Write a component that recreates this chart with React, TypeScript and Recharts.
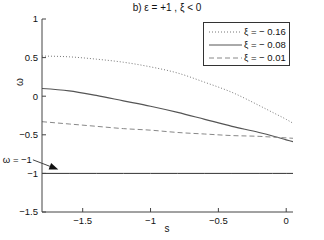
import { LineChart, Line, XAxis, YAxis, ReferenceLine } from 'recharts'

// s axis samples and the three ω(s) curves
const sVals = [-1.8, -1.6, -1.4, -1.2, -1.0, -0.8, -0.6, -0.4, -0.2, -0.1, 0, 0.05]
const xiA = [0.52, 0.51, 0.48, 0.44, 0.38, 0.3, 0.18, 0.05, -0.12, -0.21, -0.3, -0.35] // ξ = -0.16
const xiB = [0.1, 0.07, 0.01, -0.06, -0.13, -0.21, -0.3, -0.39, -0.47, -0.515, -0.565, -0.59] // ξ = -0.08
const xiC = [-0.33, -0.36, -0.39, -0.42, -0.44, -0.47, -0.49, -0.51, -0.52, -0.53, -0.54, -0.545] // ξ = -0.01
const omegaFloor = -1

const xTicks = [-1.5, -1, -0.5, 0]
const yTicks = [-1.5, -1, -0.5, 0, 0.5, 1]

const series = [
  { key: 'a', label: 'ξ = − 0.16', color: '#777', dash: '1 2', width: 1 },
  { key: 'b', label: 'ξ = − 0.08', color: '#555', dash: undefined, width: 1.2 },
  { key: 'c', label: 'ξ = − 0.01', color: '#888', dash: '5 3', width: 1 },
]

const data = sVals.map((s, i) => ({ s, a: xiA[i], b: xiB[i], c: xiC[i], floor: omegaFloor }))

const FONT = '"Liberation Sans", Arial, sans-serif'
const fmt = (v: number) => (v < 0 ? `−${Math.abs(v)}` : String(v))

function LegendBox() {
  return (
    <div style={{ position: 'absolute', left: 203, top: 22, border: '1px solid #333', background: '#fff',
      padding: '2px 3px 1px 5px', fontFamily: FONT, fontSize: 9.5, color: '#111', whiteSpace: 'nowrap' }}>
      {series.map(s => (
        <div key={s.key} style={{ display: 'flex', alignItems: 'center', height: 13 }}>
          <svg width={34} height={6}>
            <line x1={0} y1={3} x2={33} y2={3} stroke={s.color} strokeDasharray={s.dash} strokeWidth={1} />
          </svg>
          <span style={{ marginLeft: 1 }}>{s.label}</span>
        </div>
      ))}
    </div>
  )
}

function Arrow(props: any) {
  const { x1, y1, x2, y2 } = props
  const ang = Math.atan2(y2 - y1, x2 - x1)
  const L = 9, W = 3.5
  const bx = x2 - L * Math.cos(ang), by = y2 - L * Math.sin(ang)
  const px = -Math.sin(ang) * W, py = Math.cos(ang) * W
  return (
    <g>
      <text x={x1 - 1} y={y1 + 3} textAnchor="end" fontSize={9.5} fontFamily={FONT} fill="#111">ω = −1</text>
      <line x1={x1} y1={y1} x2={bx} y2={by} stroke="#111" strokeWidth={0.8} />
      <polygon points={`${x2},${y2} ${bx + px},${by + py} ${bx - px},${by - py}`} fill="#111" />
    </g>
  )
}

export default function App() {
  return (
    <div style={{ position: 'absolute', left: 0, top: 0, width: 324, height: 240, background: '#fff' }}>
      <LineChart width={324} height={240} data={data} margin={{ top: 19, right: 31, bottom: 8, left: 12 }}>
        <text x={167} y={11} textAnchor="middle" fontSize={10} fontFamily={FONT} fill="#111">b) ε = +1 , ξ &lt; 0</text>
        <text x={23} y={82} textAnchor="middle" fontSize={10} fontFamily={FONT} fill="#111" transform="rotate(-90 23 82)">ω</text>
        <text x={167} y={232} textAnchor="middle" fontSize={10} fontFamily={FONT} fill="#111">s</text>
        <XAxis dataKey="s" type="number" domain={[-1.8, 0.05]} ticks={xTicks} allowDataOverflow
          height={20} tickSize={-4} tickMargin={9} tickFormatter={fmt}
          axisLine={{ stroke: '#444' }} tickLine={{ stroke: '#444' }}
          tick={{ fontSize: 9.5, fontFamily: FONT, fill: '#111' }} />
        <YAxis type="number" domain={[-1.5, 1]} ticks={yTicks} allowDataOverflow
          width={30} tickSize={-4} tickMargin={8} tickFormatter={fmt}
          axisLine={{ stroke: '#444' }} tickLine={{ stroke: '#444' }}
          tick={{ fontSize: 9.5, fontFamily: FONT, fill: '#111' }} />
        {series.map(s => (
          <Line key={s.key} dataKey={s.key} name={s.label} type="monotone" stroke={s.color}
            strokeDasharray={s.dash} strokeWidth={s.width} dot={false} isAnimationActive={false} />
        ))}
        <Line dataKey="floor" stroke="#333" strokeWidth={1} dot={false} isAnimationActive={false} legendType="none" />
        <ReferenceLine segment={[{ x: -1.867, y: -0.824 }, { x: -1.68, y: -0.95 }]} ifOverflow="visible" shape={<Arrow />} />
      </LineChart>
      <LegendBox />
    </div>
  )
}
